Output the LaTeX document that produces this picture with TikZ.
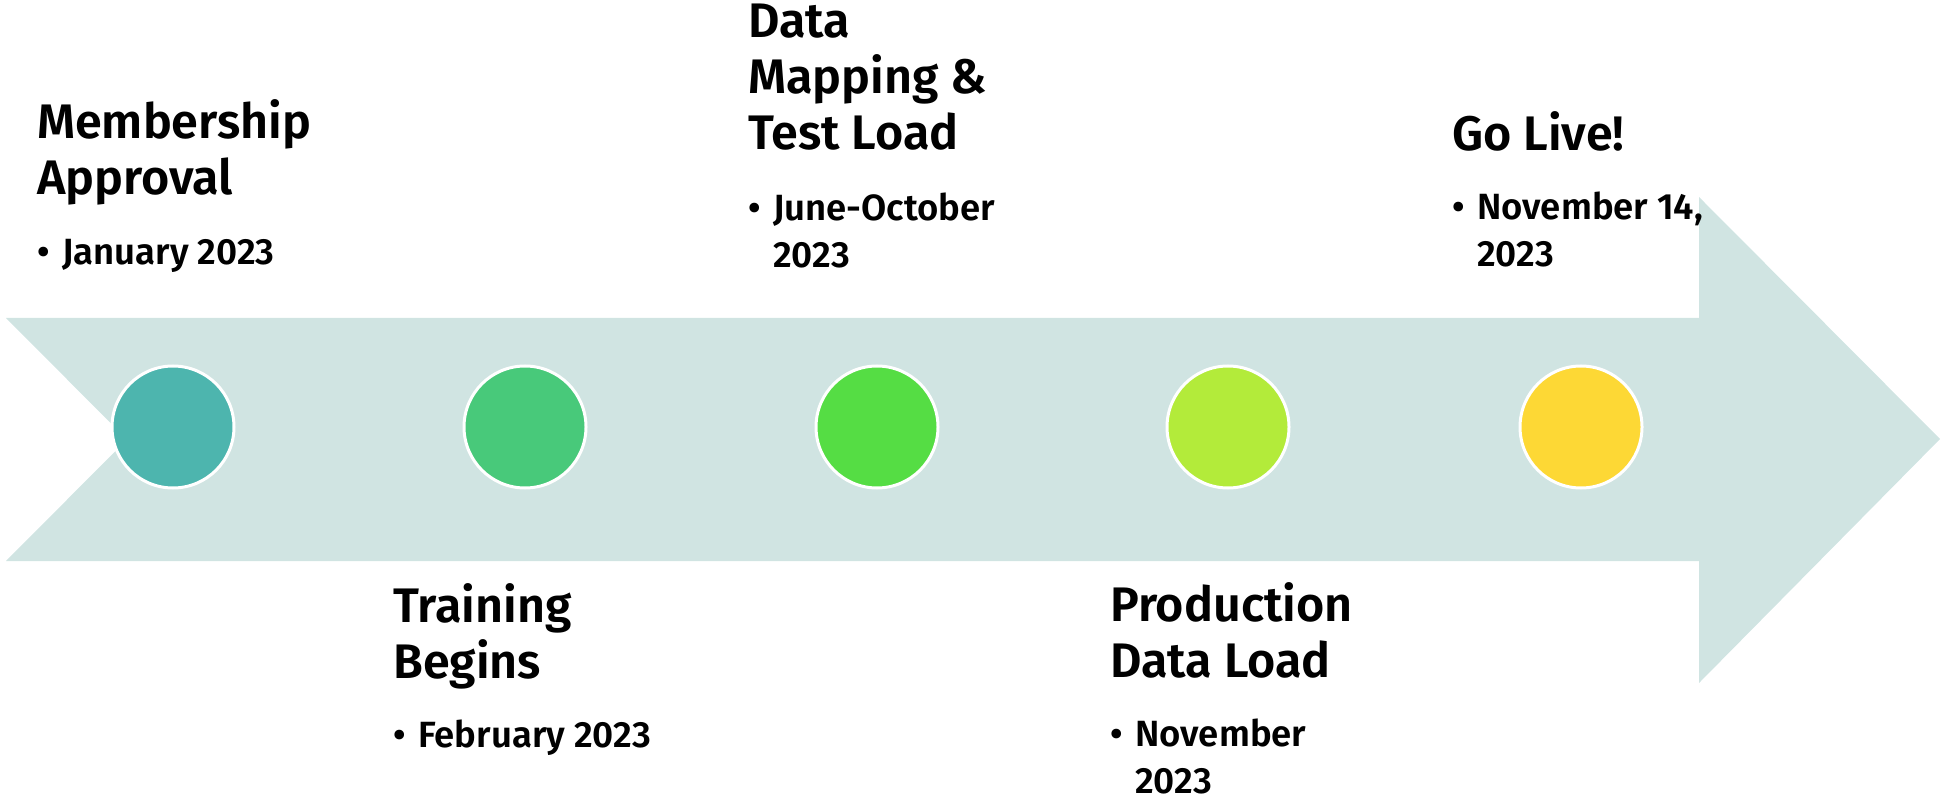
\documentclass[tikz,border=0pt]{standalone}
\usepackage{fontspec}
\setmainfont{Fira Sans}[BoldFont={Fira Sans SemiBold}]
\usetikzlibrary{positioning}

\definecolor{shaft}{HTML}{D0E4E2}
\definecolor{teal1}{HTML}{4DB5AE}
\definecolor{green1}{HTML}{48C97A}
\definecolor{green2}{HTML}{55DD44}
\definecolor{lime1}{HTML}{B3EB3A}
\definecolor{gold1}{HTML}{FDD835}

\newcommand{\bul}{\makebox[25pt][l]{\textbullet}}
\newcommand{\ind}{\hspace*{25pt}}

\begin{document}
\begin{tikzpicture}[
    x=1pt, y=-1pt,
    milestone/.style={circle, draw=white, line width=3pt, minimum size=122pt, inner sep=0pt},
    head/.style={anchor=base west, align=left, inner sep=0pt,
        font=\fontsize{48.5}{56}\selectfont\bfseries},
    date/.style={anchor=base west, align=left, inner sep=0pt,
        font=\fontsize{36.5}{47}\selectfont\bfseries}
]
\useasboundingbox (0,0) rectangle (1941,799);

% Arrow band
\fill[shaft] (6,318) -- (1699,318) -- (1699,197) -- (1940,439) -- (1699,683)
    -- (1699,561) -- (6,561) -- (127,439.5) -- cycle;

% Milestone circles
\node[milestone, fill=teal1] (m1) at (173,427) {};
\node[milestone, fill=green1] (m2) at (525,427) {};
\node[milestone, fill=green2] (m3) at (877,427) {};
\node[milestone, fill=lime1] (m4) at (1228,427) {};
\node[milestone, fill=gold1] (m5) at (1581,427) {};

% Labels above and below (placed at the baseline of their last line)
\node[head] (t1) at (37,195) {Membership\\Approval};
\node[date] (d1) at (37,265) {\bul January 2023};

\node[head] (t2) at (393,678) {Training\\Begins};
\node[date] (d2) at (393,747) {\bul February 2023};

\node[head] (t3) at (748,150) {Data\\Mapping \&\\Test Load};
\node[date] (d3) at (748,268) {\bul June-October\\\ind 2023};

\node[head] (t4) at (1110,677) {Production\\Data Load};
\node[date] (d4) at (1110,793) {\bul November\\\ind 2023};

\node[head] (t5) at (1452,151) {Go Live!};
\node[date] (d5) at (1452,267) {\bul November 14,\\\ind 2023};

\end{tikzpicture}
\end{document}
